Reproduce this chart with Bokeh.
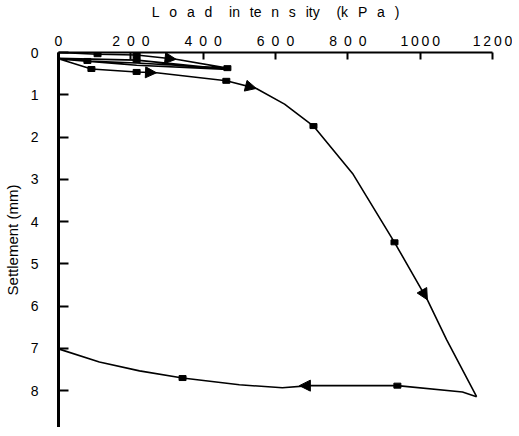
from bokeh.plotting import figure
from bokeh.models import Range1d, Arrow, NormalHead, CustomJSTickFormatter
from bokeh.embed import file_html
from bokeh.resources import INLINE

# Loading path (load intensity kPa, settlement mm), in test order
load_x = [0, 108, 216, 325, 467, 216, 80, 0, 216, 467, 216, 0, 91, 216, 271, 464,
          547, 625, 705, 813, 929, 1020, 1073, 1156]
load_y = [0, 0.04, 0.06, 0.16, 0.37, 0.25, 0.20, 0.14, 0.18, 0.40, 0.30, 0.15, 0.39, 0.46, 0.48, 0.67,
          0.85, 1.22, 1.74, 2.86, 4.49, 5.85, 6.79, 8.14]

# Final unloading path
unload_x = [1156, 1117, 937, 694, 619, 500, 343, 224, 113, 0]
unload_y = [8.14, 8.03, 7.88, 7.88, 7.93, 7.86, 7.70, 7.53, 7.32, 7.01]

# Measured points shown with markers
mk_x = [108, 216, 80, 216, 467, 91, 216, 464, 705, 929, 937, 343]
mk_y = [0.04, 0.06, 0.20, 0.18, 0.37, 0.39, 0.46, 0.67, 1.74, 4.49, 7.88, 7.70]

# Direction arrows (tail -> tip)
arr_x0 = [216, 216, 464, 929, 937]
arr_y0 = [0.06, 0.46, 0.67, 4.49, 7.88]
arr_x1 = [325, 271, 547, 1020, 666]
arr_y1 = [0.16, 0.48, 0.85, 5.85, 7.88]

x_ticks = [0, 200, 400, 600, 800, 1000, 1200]
y_ticks = [0, 1, 2, 3, 4, 5, 6, 7, 8, 9]
G = "\u2002\u2009"   # letter gap
W = "\u2003\u2009"   # word gap
x_title = ("L" + G + "o" + G + "a" + G + "d" + W + "in" + G + "te" + G + "n" + G + "s" + G + "ity"
           + W + "(k" + G + "P" + G + "a" + G + ")")

FONT = "Liberation Sans"

p = figure(frame_width=434, frame_height=375,
           x_range=Range1d(0, 1200), y_range=Range1d(8.87, 0),
           x_axis_location="above",
           output_backend="svg", toolbar_location=None,
           min_border_left=51, min_border_right=20,
           min_border_top=45, min_border_bottom=0)
p.outline_line_color = None
p.grid.visible = False
p.background_fill_color = "white"
p.border_fill_color = "white"

xa = p.xaxis[0]
xa.ticker = x_ticks
xa.formatter = CustomJSTickFormatter(code="""
const s = tick.toFixed(0);
return s.split('').join(s.length > 3 ? '\\u2009' : '\\u2002');
""")
xa.axis_label = x_title
xa.axis_label_text_font = FONT
xa.axis_label_text_font_size = "14px"
xa.axis_label_text_font_style = "normal"
xa.axis_label_text_color = "black"
xa.axis_label_standoff = 10
xa.major_label_text_font = FONT
xa.major_label_text_font_size = "14px"
xa.major_label_text_color = "black"
xa.major_label_standoff = 4
xa.major_tick_in = 7
xa.major_tick_out = 0
xa.minor_tick_line_color = None
xa.axis_line_width = 2
xa.major_tick_line_width = 2
xa.axis_line_color = "black"
xa.major_tick_line_color = "black"

ya = p.yaxis[0]
ya.ticker = y_ticks
ya.axis_label = "Settlement (mm)"
ya.axis_label_text_font = FONT
ya.axis_label_text_font_size = "15px"
ya.axis_label_text_font_style = "normal"
ya.axis_label_text_color = "black"
ya.axis_label_standoff = 7
ya.major_label_text_font = FONT
ya.major_label_text_font_size = "14px"
ya.major_label_text_color = "black"
ya.major_label_standoff = 20
ya.major_tick_in = 10
ya.major_tick_out = 0
ya.minor_tick_line_color = None
ya.axis_line_width = 3
ya.major_tick_line_width = 2
ya.axis_line_color = "black"
ya.major_tick_line_color = "black"

p.line(load_x, load_y, line_color="black", line_width=1.6)
p.line(unload_x, unload_y, line_color="black", line_width=1.6)
p.rect(mk_x, mk_y, width=7, height=5, width_units="screen", height_units="screen",
       fill_color="black", line_color="black")

for x0, y0, x1, y1 in zip(arr_x0, arr_y0, arr_x1, arr_y1):
    p.add_layout(Arrow(end=NormalHead(size=11, fill_color="black", line_color="black"),
                       x_start=x0, y_start=y0, x_end=x1, y_end=y1,
                       line_alpha=0))

open("out.html", "w").write(file_html(p, INLINE))
